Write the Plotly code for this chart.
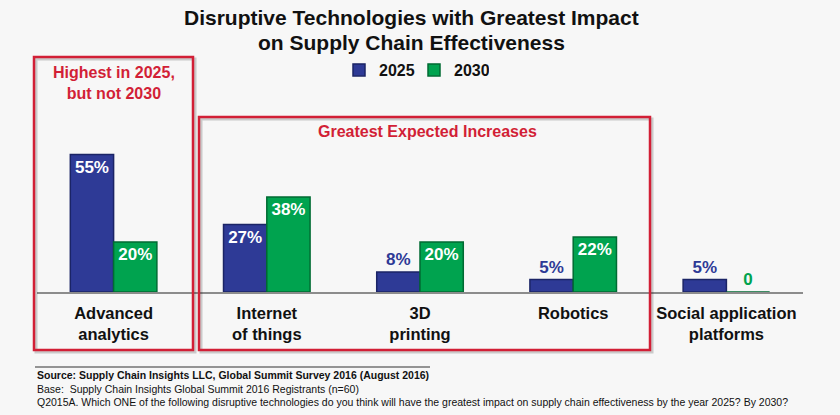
import plotly.graph_objects as go

categories = ["Advanced<br>analytics", "Internet<br>of things", "3D<br>printing", "Robotics", "Social application<br>platforms"]
series_names = ["2025", "2030"]
values_2025 = [55, 27, 8, 5, 5]
values_2030 = [20, 38, 20, 22, 0]
labels_2025 = ["55%", "27%", "8%", "5%", "5%"]
labels_2030 = ["20%", "38%", "20%", "22%", "0"]
pos_2025 = ["inside", "inside", "outside", "outside", "outside"]
pos_2030 = ["inside", "inside", "inside", "inside", "outside"]
title_lines = ["Disruptive Technologies with Greatest Impact", "on Supply Chain Effectiveness"]

BLUE = "#2E3A96"
GREEN = "#00A34F"
RED = "#D21F36"
FONT = "Arial, Liberation Sans, sans-serif"

W, H = 840, 415
L, R, T, B = 37, 37, 92, 123
PW, PH = W - L - R, H - T - B


def px(x):
    return (x - L) / PW


def py(y):
    return (H - B - y) / PH


fig = go.Figure()
fig.add_bar(
    x=categories, y=values_2025, name=series_names[0],
    marker=dict(color=BLUE, line=dict(color="#1B2466", width=1.5)),
    text=labels_2025, textposition=pos_2025, insidetextanchor="end",
    constraintext="none", cliponaxis=False,
    insidetextfont=dict(family=FONT, size=17, color="white", weight="bold"),
    outsidetextfont=dict(family=FONT, size=17, color=BLUE, weight="bold"),
)
fig.add_bar(
    x=categories, y=values_2030, name=series_names[1],
    marker=dict(color=GREEN, line=dict(color="#006B33", width=1.5)),
    text=labels_2030, textposition=pos_2030, insidetextanchor="end",
    constraintext="none", cliponaxis=False,
    insidetextfont=dict(family=FONT, size=17, color="white", weight="bold"),
    outsidetextfont=dict(family=FONT, size=17, color=GREEN, weight="bold"),
)

shapes = []
# red callout boxes (with soft shadow)
for (x0, y0, x1, y1) in [(34, 57, 193, 350), (199, 117, 650, 350)]:
    shapes.append(dict(type="rect", xref="paper", yref="paper",
                       x0=px(x0 + 2), x1=px(x1 + 2), y0=py(y1 + 2), y1=py(y0 + 2),
                       line=dict(color="rgba(0,0,0,0.18)", width=3), layer="above"))
    shapes.append(dict(type="rect", xref="paper", yref="paper",
                       x0=px(x0), x1=px(x1), y0=py(y1), y1=py(y0),
                       line=dict(color=RED, width=2.5), layer="above"))
# footer rule
shapes.append(dict(type="line", xref="paper", yref="paper",
                   x0=px(35), x1=px(430), y0=py(367), y1=py(367),
                   line=dict(color="#333333", width=1.2)))

annotations = [
    dict(text="<b>%s</b>" % title_lines[0],
         x=px(411), y=py(17), xref="paper", yref="paper", showarrow=False,
         xanchor="center", yanchor="middle", font=dict(family=FONT, size=21, color="#111111")),
    dict(text="<b>%s</b>" % title_lines[1],
         x=px(411), y=py(42), xref="paper", yref="paper", showarrow=False,
         xanchor="center", yanchor="middle", font=dict(family=FONT, size=21, color="#111111")),
    dict(text="<b>Highest in 2025,<br>but not 2030</b>",
         x=px(114), y=py(83), xref="paper", yref="paper", showarrow=False,
         xanchor="center", yanchor="middle", font=dict(family=FONT, size=16, color=RED)),
    dict(text="<b>Greatest Expected Increases</b>",
         x=px(427), y=py(131), xref="paper", yref="paper", showarrow=False,
         xanchor="center", yanchor="middle", font=dict(family=FONT, size=16, color=RED)),
    dict(text="<b>Source: Supply Chain Insights LLC, Global Summit Survey 2016 (August 2016)</b>",
         x=px(35), y=py(375), xref="paper", yref="paper", showarrow=False,
         xanchor="left", yanchor="middle", font=dict(family=FONT, size=10.5, color="#111111")),
    dict(text="Base:  Supply Chain Insights Global Summit 2016 Registrants (n=60)",
         x=px(35), y=py(389), xref="paper", yref="paper", showarrow=False,
         xanchor="left", yanchor="middle", font=dict(family=FONT, size=10.5, color="#111111")),
    dict(text="Q2015A. Which ONE of the following disruptive technologies do you think will have the greatest impact on supply chain effectiveness by the year 2025? By 2030?",
         x=px(35), y=py(402), xref="paper", yref="paper", showarrow=False,
         xanchor="left", yanchor="middle", font=dict(family=FONT, size=10.5, color="#111111")),
]

fig.update_layout(
    width=W, height=H,
    margin=dict(l=L, r=R, t=T, b=B, pad=0),
    paper_bgcolor="#f7f7f7", plot_bgcolor="rgba(0,0,0,0)",
    barmode="group", bargap=0.435, bargroupgap=0,
    showlegend=True,
    legend=dict(orientation="h", x=px(339), y=py(70), xanchor="left", yanchor="middle",
                font=dict(family=FONT, size=16, color="#111111", weight="bold"),
                bgcolor="rgba(0,0,0,0)", itemwidth=30, entrywidth=30, traceorder="normal"),
    xaxis=dict(showline=True, linecolor="#8c8c8c", linewidth=2, showgrid=False,
               ticks="", ticklabelstandoff=5,
               tickfont=dict(family=FONT, size=16.5, color="#111111", weight="bold"),
               fixedrange=True),
    yaxis=dict(range=[0, 80], visible=False, showgrid=False, zeroline=False, fixedrange=True),
    shapes=shapes, annotations=annotations,
    font=dict(family=FONT),
)

fig.write_html("out.html", config={"displayModeBar": False},
               post_script="document.body.style.margin='0px';")
